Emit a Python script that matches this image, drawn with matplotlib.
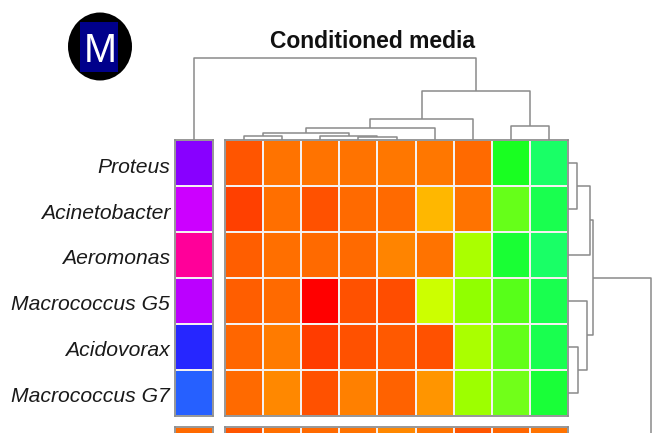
import numpy as np
import matplotlib
matplotlib.use("Agg")
import matplotlib.pyplot as plt
from matplotlib.colors import ListedColormap, Normalize, hsv_to_rgb
from matplotlib.patches import Ellipse, Rectangle

# ---------------- data ----------------
title = "Conditioned media"
panel_letter = "M"
row_labels = ["Proteus", "Acinetobacter", "Aeromonas",
              "Macrococcus G5", "Acidovorax", "Macrococcus G7"]

# cell values on a hue scale (degrees, 0 = red, 120 = green)
heat_values = [
    [20.0, 27.0, 27.0, 27.0, 28.0, 28.0, 25.0, 122.0, 140.0],
    [15.0, 26.0, 19.0, 25.0, 25.0, 43.0, 27.0, 100.0, 134.0],
    [22.6, 26.0, 25.0, 25.0, 31.0, 27.0, 80.0, 127.0, 140.0],
    [22.6, 25.0, 0.0, 19.0, 18.0, 72.0, 86.0, 104.0, 134.0],
    [24.5, 29.0, 14.0, 19.0, 21.6, 19.0, 80.0, 101.0, 134.0],
    [25.0, 32.5, 19.0, 30.6, 23.5, 35.8, 83.0, 97.0, 128.0],
]
# annotation column on the same hue scale
annot_values = [272.0, 288.0, 324.0, 284.0, 240.0, 224.0]

# first row of the next (cropped) panel below
next_heat_values = [20.0, 26.0, 25.0, 27.0, 32.0, 27.0, 20.0, 24.0, 27.0]
next_annot_value = 25.0

# column dendrogram: leaves 0 = annotation column, 1..9 = heatmap columns
col_merges = [
    (4, 5, 3.0),
    (1, 2, 4.0),
    (3, 10, 4.3),
    (11, 12, 7.5),
    (13, 6, 12.0),
    (14, 7, 21.5),
    (8, 9, 14.0),
    (15, 16, 49.0),
    (0, 17, 82.0),
]
# row dendrogram: leaves 0..5 = rows, 6 = cluster in the panel below
row_merges = [
    (0, 1, 9.0),
    (7, 2, 22.0),
    (4, 5, 10.0),
    (3, 9, 19.0),
    (8, 10, 25.0),
    (11, 6, 83.0),
]

# ---------------- layout (pixels) ----------------
W, H = 654, 433
fig = plt.figure(figsize=(W / 100, H / 100), dpi=100)
plt.rcParams['font.family'] = ['Liberation Sans', 'DejaVu Sans']


def rect(x0, y0, x1, y1):
    return [x0 / W, 1 - y1 / H, (x1 - x0) / W, (y1 - y0) / H]


hx0, hx1 = 225, 568
hy0, hy1 = 140, 415.5
bx0, bx1 = 175, 212.5
strip_y0 = 427
row_h = (hy1 - hy0) / 6
col_w = (hx1 - hx0) / 9

hues = np.linspace(0, 1, 361)
sat = np.where((hues > 0.25) & (hues < 0.45), 0.9, 1.0)
sat = np.where((hues > 0.6) & (hues < 0.7), 0.85, sat)
cmap = ListedColormap(hsv_to_rgb(np.stack([hues, sat, np.ones_like(hues)], axis=1)))
norm = Normalize(0, 360)

border_col = "#8f8f8f"
grid_col = "#f4f0f0"
dendro_col = "#8a8a8a"


def draw_grid(ax, data):
    data = np.asarray(data)
    nr, nc = data.shape
    ax.pcolormesh(np.arange(nc + 1), np.arange(nr + 1), data, cmap=cmap, norm=norm,
                  edgecolors=grid_col, linewidth=1.4)
    ax.set_xlim(0, nc)
    ax.set_ylim(nr, 0)
    ax.set_xticks([])
    ax.set_yticks([])
    for s in ax.spines.values():
        s.set_color(border_col)
        s.set_linewidth(1.3)
        s.set_zorder(5)


# main heatmap
ax_h = fig.add_axes(rect(hx0, hy0, hx1, hy1))
draw_grid(ax_h, heat_values)

# annotation bar
ax_a = fig.add_axes(rect(bx0, hy0, bx1, hy1))
draw_grid(ax_a, np.array(annot_values)[:, None])
for i, lab in enumerate(row_labels):
    ax_a.text(-5 / (bx1 - bx0), i + 0.5 + 9.7 / row_h, lab, transform=ax_a.get_yaxis_transform(),
              ha="right", va="baseline", fontsize=15.2, style="italic", color="#1a1a1a")

# next panel strip (cropped at the bottom)
ax_h2 = fig.add_axes(rect(hx0, strip_y0, hx1, strip_y0 + row_h))
draw_grid(ax_h2, [next_heat_values])
ax_a2 = fig.add_axes(rect(bx0, strip_y0, bx1, strip_y0 + row_h))
draw_grid(ax_a2, [[next_annot_value]])


def draw_dendro(ax, leaf_pos, merges, vertical):
    pos = {i: p for i, p in enumerate(leaf_pos)}
    hgt = {i: 0.0 for i in range(len(leaf_pos))}
    n = len(leaf_pos)
    for k, (a, b, h) in enumerate(merges):
        pa, pb = pos[a], pos[b]
        xs = [pa, pa, pb, pb]
        ys = [hgt[a], h, h, hgt[b]]
        if vertical:
            ax.plot(xs, ys, color=dendro_col, lw=1.1, clip_on=False, solid_capstyle="butt")
        else:
            ax.plot(ys, xs, color=dendro_col, lw=1.1, clip_on=False, solid_capstyle="butt")
        pos[n + k] = (pa + pb) / 2
        hgt[n + k] = h


# column dendrogram
ax_ct = fig.add_axes(rect(hx0, 40, hx1, hy0))
ax_ct.set_xlim(0, 9)
ax_ct.set_ylim(0, 100)
ax_ct.axis("off")
annot_pos = ((bx0 + bx1) / 2 - hx0) / col_w
draw_dendro(ax_ct, [annot_pos] + [i + 0.5 for i in range(9)], col_merges, True)

# row dendrogram
ax_rt = fig.add_axes(rect(hx1, hy0, hx1 + 92, hy1))
ax_rt.set_xlim(0, 92)
ax_rt.set_ylim(6, 0)
ax_rt.axis("off")
draw_dendro(ax_rt, [i + 0.5 for i in range(6)] + [12.0], row_merges, False)

# overlay: title and panel badge
ax_o = fig.add_axes([0, 0, 1, 1])
ax_o.set_xlim(0, W)
ax_o.set_ylim(H, 0)
ax_o.axis("off")
ax_o.add_patch(Ellipse((100, 46.5), 64, 68, facecolor="black", edgecolor="none"))
ax_o.add_patch(Rectangle((80, 22), 38, 50, facecolor="#00008b", edgecolor="none"))
ax_o.text(100, 62, panel_letter, ha="center", va="baseline", fontsize=28.5, color="white")
ax_o.text(372, 48, title, ha="center", va="baseline", fontsize=16.5,
          fontweight="bold", color="#111111")

fig.savefig("out.png", dpi=100)
